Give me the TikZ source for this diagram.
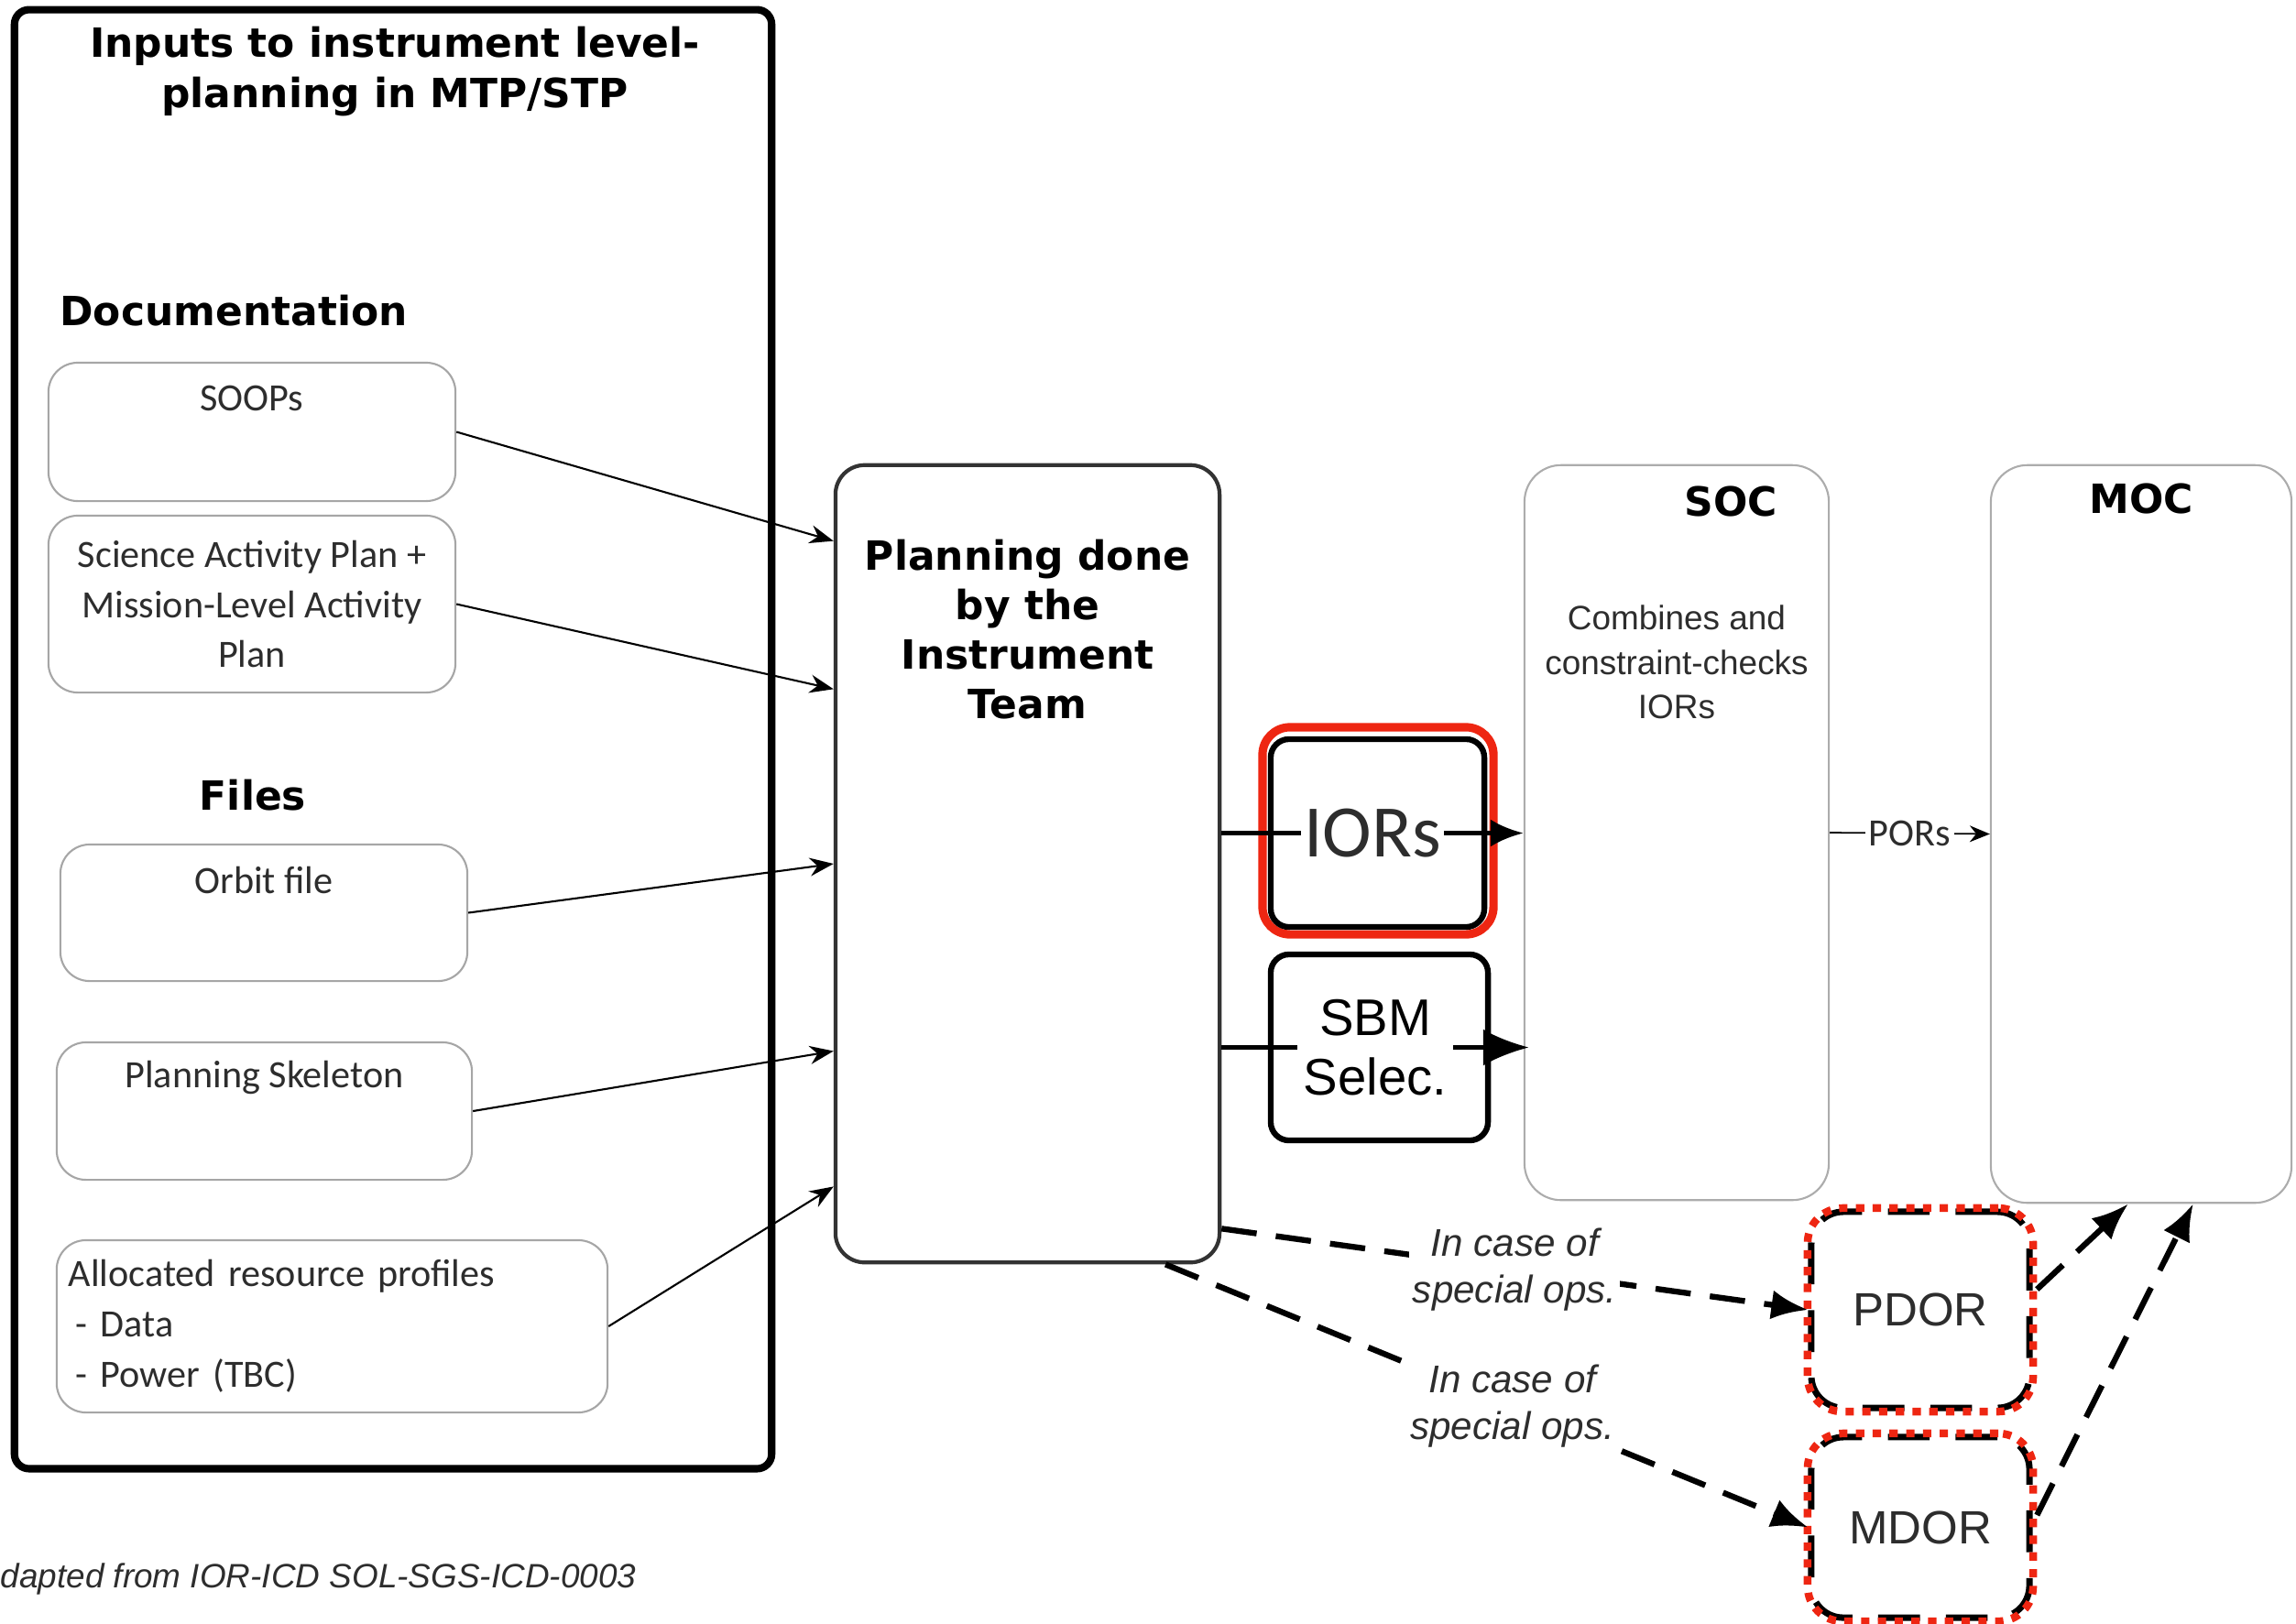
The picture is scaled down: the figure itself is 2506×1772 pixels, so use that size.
\documentclass[tikz,border=0pt]{standalone}
\usepackage{fontspec}
\setmainfont{Liberation Sans}
\newfontfamily\heavyfont{DejaVu Sans}
\newfontfamily\calfont{Carlito}
\usetikzlibrary{arrows.meta,positioning}
\definecolor{hlred}{RGB}{238,38,18}
\definecolor{txtgray}{RGB}{45,45,45}

\tikzset{
  heading/.style={font=\heavyfont\bfseries\fontsize{12.5}{15.4}\selectfont, align=center},
  outerbox/.style={draw, line width=2.3pt, rounded corners=0.16cm},
  inbox/.style={draw=gray!70, line width=0.6pt, rounded corners=0.32cm,
    font=\calfont\fontsize{12}{15.6}\selectfont, text=txtgray, align=center},
  inlbl/.style={font=\calfont\fontsize{12}{15.6}\selectfont, text=txtgray},
  planbox/.style={draw=black!80, line width=1.2pt, rounded corners=0.32cm},
  centre/.style={draw=gray!65, line width=0.6pt, rounded corners=0.4cm},
  smalltxt/.style={font=\fontsize{10.5}{13.8}\selectfont, text=txtgray, align=center},
  outbox/.style={draw, line width=1.8pt, rounded corners=0.2cm},
  redbox/.style={draw=hlred, line width=2.6pt, rounded corners=0.3cm},
  dashbox/.style={draw, line width=2pt, dash pattern=on 13pt off 8pt, rounded corners=0.35cm,
    font=\fontsize{14.5}{16}\selectfont, text=txtgray},
  dotbox/.style={draw=hlred, line width=2.4pt, dash pattern=on 2.6pt off 2.6pt, rounded corners=0.38cm},
  feed/.style={line width=0.6pt, -{Stealth[length=2.6mm,width=2mm]}},
  flow/.style={line width=1.5pt, -{Latex[length=3.6mm,width=3mm]}},
  special/.style={line width=1.8pt, dash pattern=on 11pt off 6pt, -{Latex[length=4mm,width=3.2mm]}},
  opslbl/.style={fill=white, font=\itshape\fontsize{12}{14.5}\selectfont, text=txtgray, align=center, inner sep=1pt}
}

\begin{document}
\begin{tikzpicture}[x=0.01cm, y=-0.01cm]
\useasboundingbox (0,0) rectangle (2506,1772);

% inputs to instrument level planning
\node[outerbox, minimum width=8.26cm, minimum height=15.92cm] (inputs) at (429,807) {};
\node[heading] (title) at (431,78) {Inputs to instrument level-\\planning in MTP/STP};
\node[heading, anchor=west] (doc) at (53,339) {Documentation};
\node[inbox, minimum width=4.44cm, minimum height=1.51cm,
  label={[inlbl, yshift=0.37cm]center:SOOPs}] (soops) at (275,471.5) {};
\node[inbox, minimum width=4.44cm, minimum height=1.93cm] (sap) at (275,659.5)
  {Science Activity Plan +\\Mission-Level Activity\\Plan};
\node[heading] (files) at (276,868) {Files};
\node[inbox, minimum width=4.44cm, minimum height=1.49cm,
  label={[inlbl, yshift=0.35cm]center:Orbit file}] (orbit) at (288,996.5) {};
\node[inbox, minimum width=4.53cm, minimum height=1.5cm,
  label={[inlbl, yshift=0.37cm]center:Planning Skeleton}] (skel) at (288.5,1213) {};
\node[inbox, minimum width=6.01cm, minimum height=1.88cm, text width=5.75cm, align=left,
  inner xsep=0.13cm] (alloc) at (362.5,1448)
  {Allocated resource profiles\\\hspace{0.08cm}- Data\\\hspace{0.08cm}- Power (TBC)};

% instrument team
\node[planbox, minimum width=4.19cm, minimum height=8.7cm,
  label={[heading, yshift=2.56cm]center:Planning done\\by the\\Instrument\\Team}] (plan) at (1121.5,943) {};

\draw[feed] (soops.east) -- (plan.121);
\draw[feed] (sap.east) -- (plan.138);
\draw[feed] (orbit.east) -- (plan.west);
\draw[feed] (skel.east) -- (plan.224);
\draw[feed] (alloc.east) -- (plan.239);

% SOC and MOC
\node[centre, minimum width=3.32cm, minimum height=8.02cm,
  label={[heading, xshift=0.59cm, yshift=3.61cm]center:SOC},
  label={[smalltxt, yshift=1.86cm]center:Combines and\\constraint-checks\\IORs}] (soc) at (1830,909) {};
\node[centre, minimum width=3.28cm, minimum height=8.05cm,
  label={[heading, yshift=3.66cm]center:MOC}] (moc) at (2337,910.5) {};

% IORs and SBM selection
\node[redbox, minimum width=2.52cm, minimum height=2.26cm] (iorred) at (1504,907) {};
\node[outbox, minimum width=2.33cm, minimum height=2.05cm] (iorbox) at (1503.5,909.5) {};
\node[outbox, minimum width=2.37cm, minimum height=2.03cm] (sbmbox) at (1505.5,1143.5) {};

\draw[flow] (plan.east |- iorbox) -- node[fill=white, inner sep=1pt, font=\calfont\fontsize{23}{26}\selectfont, text=txtgray] (iortxt) {IORs} (soc.west |- iorbox);
\draw[flow, -{Latex[length=5mm,width=4mm]}] (plan.east |- sbmbox) -- ([xshift=0.06cm]soc.west |- sbmbox)
  node[midway, fill=white, inner sep=2pt, font=\fontsize{16}{18.5}\selectfont, align=center] (sbmtxt) {SBM\\Selec.};
\draw[line width=0.5pt, -{Stealth[length=2.2mm,width=1.8mm]}] (soc.east) -- node[fill=white, inner sep=1pt, font=\calfont\fontsize{12}{14}\selectfont, text=txtgray] (pors) {PORs} (moc.west);

% direct requests
\node[dashbox, minimum width=2.38cm, minimum height=2.14cm] (pdor) at (2096,1430) {PDOR};
\node[dotbox, minimum width=2.46cm, minimum height=2.22cm] (pdorred) at (2096,1430) {};
\node[dashbox, minimum width=2.38cm, minimum height=1.97cm] (mdor) at (2096,1667.5) {MDOR};
\node[dotbox, minimum width=2.46cm, minimum height=2.05cm] (mdorred) at (2096,1667.5) {};

\draw[special] (plan.298) -- node[opslbl] (ops1) {In case of\\special ops.} (pdor.west);
\draw[special] (plan.289) -- node[opslbl, pos=0.54] (ops2) {In case of\\special ops.} (mdor.west);
\draw[special] (pdorred.10) -- (moc.268);
\draw[special] (mdorred.6) -- (moc.278);

\node[anchor=west, inner sep=0pt, font=\itshape\fontsize{10.5}{12}\selectfont, text=txtgray] (src) at (0,1724) {dapted from IOR-ICD SOL-SGS-ICD-0003};
\end{tikzpicture}
\end{document}
